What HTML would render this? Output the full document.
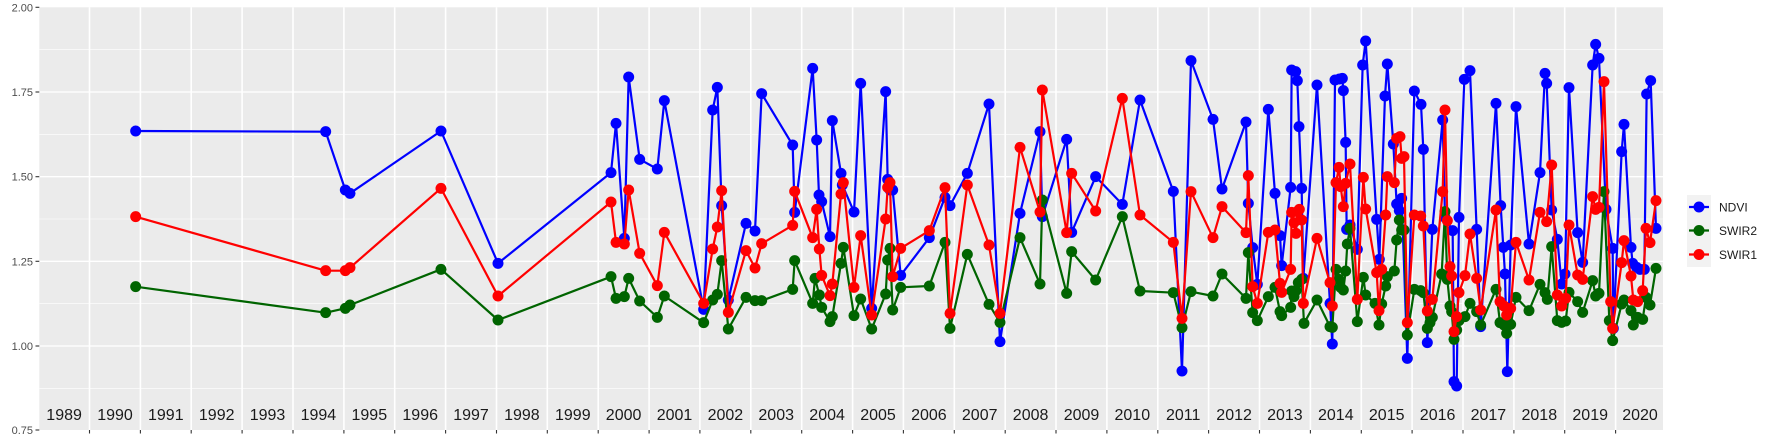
<!DOCTYPE html>
<html><head><meta charset="utf-8"><style>
html,body{margin:0;padding:0;background:#fff;}
svg{display:block;font-family:"Liberation Sans",sans-serif;}
</style></head><body>
<svg width="1773" height="442" viewBox="0 0 1773 442" xmlns="http://www.w3.org/2000/svg">
<defs>
<marker id="mb" markerUnits="userSpaceOnUse" markerWidth="34" markerHeight="34" refX="17" refY="17" viewBox="0 0 34 34"><circle cx="17" cy="17" r="16.5" fill="#0000ff"/></marker>
<marker id="mg" markerUnits="userSpaceOnUse" markerWidth="34" markerHeight="34" refX="17" refY="17" viewBox="0 0 34 34"><circle cx="17" cy="17" r="16.5" fill="#006400"/></marker>
<marker id="mr" markerUnits="userSpaceOnUse" markerWidth="34" markerHeight="34" refX="17" refY="17" viewBox="0 0 34 34"><circle cx="17" cy="17" r="16.5" fill="#ff0000"/></marker>
</defs>
<rect x="39.3" y="7.3" width="1623.7" height="422.7" fill="#ebebeb"/>
<g stroke="#fff" stroke-width="0.6">
<line x1="39.3" x2="1663" y1="49.7" y2="49.7"/><line x1="39.3" x2="1663" y1="134.3" y2="134.3"/><line x1="39.3" x2="1663" y1="219" y2="219"/><line x1="39.3" x2="1663" y1="303.6" y2="303.6"/><line x1="39.3" x2="1663" y1="388.3" y2="388.3"/>
</g>
<g stroke="#fff" stroke-width="1.3">
<line x1="39.3" x2="1663" y1="92" y2="92"/><line x1="39.3" x2="1663" y1="176.7" y2="176.7"/><line x1="39.3" x2="1663" y1="261.3" y2="261.3"/><line x1="39.3" x2="1663" y1="346" y2="346"/>
</g>
<g stroke="#fff" stroke-width="1.6">
<line x1="89.5" x2="89.5" y1="7.3" y2="430"/><line x1="140.4" x2="140.4" y1="7.3" y2="430"/><line x1="191.2" x2="191.2" y1="7.3" y2="430"/><line x1="242.1" x2="242.1" y1="7.3" y2="430"/><line x1="293" x2="293" y1="7.3" y2="430"/><line x1="343.9" x2="343.9" y1="7.3" y2="430"/><line x1="394.7" x2="394.7" y1="7.3" y2="430"/><line x1="445.6" x2="445.6" y1="7.3" y2="430"/><line x1="496.5" x2="496.5" y1="7.3" y2="430"/><line x1="547.3" x2="547.3" y1="7.3" y2="430"/><line x1="598.2" x2="598.2" y1="7.3" y2="430"/><line x1="649.1" x2="649.1" y1="7.3" y2="430"/><line x1="699.9" x2="699.9" y1="7.3" y2="430"/><line x1="750.8" x2="750.8" y1="7.3" y2="430"/><line x1="801.7" x2="801.7" y1="7.3" y2="430"/><line x1="852.6" x2="852.6" y1="7.3" y2="430"/><line x1="903.4" x2="903.4" y1="7.3" y2="430"/><line x1="954.3" x2="954.3" y1="7.3" y2="430"/><line x1="1005.2" x2="1005.2" y1="7.3" y2="430"/><line x1="1056" x2="1056" y1="7.3" y2="430"/><line x1="1106.9" x2="1106.9" y1="7.3" y2="430"/><line x1="1157.8" x2="1157.8" y1="7.3" y2="430"/><line x1="1208.6" x2="1208.6" y1="7.3" y2="430"/><line x1="1259.5" x2="1259.5" y1="7.3" y2="430"/><line x1="1310.4" x2="1310.4" y1="7.3" y2="430"/><line x1="1361.3" x2="1361.3" y1="7.3" y2="430"/><line x1="1412.1" x2="1412.1" y1="7.3" y2="430"/><line x1="1463" x2="1463" y1="7.3" y2="430"/><line x1="1513.9" x2="1513.9" y1="7.3" y2="430"/><line x1="1564.7" x2="1564.7" y1="7.3" y2="430"/><line x1="1615.6" x2="1615.6" y1="7.3" y2="430"/>
</g>
<g stroke="#333" stroke-width="1.1">
<line x1="89.5" x2="89.5" y1="430" y2="433.5"/><line x1="140.4" x2="140.4" y1="430" y2="433.5"/><line x1="191.2" x2="191.2" y1="430" y2="433.5"/><line x1="242.1" x2="242.1" y1="430" y2="433.5"/><line x1="293" x2="293" y1="430" y2="433.5"/><line x1="343.9" x2="343.9" y1="430" y2="433.5"/><line x1="394.7" x2="394.7" y1="430" y2="433.5"/><line x1="445.6" x2="445.6" y1="430" y2="433.5"/><line x1="496.5" x2="496.5" y1="430" y2="433.5"/><line x1="547.3" x2="547.3" y1="430" y2="433.5"/><line x1="598.2" x2="598.2" y1="430" y2="433.5"/><line x1="649.1" x2="649.1" y1="430" y2="433.5"/><line x1="699.9" x2="699.9" y1="430" y2="433.5"/><line x1="750.8" x2="750.8" y1="430" y2="433.5"/><line x1="801.7" x2="801.7" y1="430" y2="433.5"/><line x1="852.6" x2="852.6" y1="430" y2="433.5"/><line x1="903.4" x2="903.4" y1="430" y2="433.5"/><line x1="954.3" x2="954.3" y1="430" y2="433.5"/><line x1="1005.2" x2="1005.2" y1="430" y2="433.5"/><line x1="1056" x2="1056" y1="430" y2="433.5"/><line x1="1106.9" x2="1106.9" y1="430" y2="433.5"/><line x1="1157.8" x2="1157.8" y1="430" y2="433.5"/><line x1="1208.6" x2="1208.6" y1="430" y2="433.5"/><line x1="1259.5" x2="1259.5" y1="430" y2="433.5"/><line x1="1310.4" x2="1310.4" y1="430" y2="433.5"/><line x1="1361.3" x2="1361.3" y1="430" y2="433.5"/><line x1="1412.1" x2="1412.1" y1="430" y2="433.5"/><line x1="1463" x2="1463" y1="430" y2="433.5"/><line x1="1513.9" x2="1513.9" y1="430" y2="433.5"/><line x1="1564.7" x2="1564.7" y1="430" y2="433.5"/><line x1="1615.6" x2="1615.6" y1="430" y2="433.5"/>
<line x1="35.5" x2="39.3" y1="7.3" y2="7.3"/><line x1="35.5" x2="39.3" y1="92" y2="92"/><line x1="35.5" x2="39.3" y1="176.7" y2="176.7"/><line x1="35.5" x2="39.3" y1="261.3" y2="261.3"/><line x1="35.5" x2="39.3" y1="346" y2="346"/><line x1="35.5" x2="39.3" y1="430" y2="430"/>
</g>
<g font-size="11" fill="#4d4d4d" text-anchor="end">
<text x="33" y="11.3">2.00</text><text x="33" y="96">1.75</text><text x="33" y="180.7">1.50</text><text x="33" y="265.3">1.25</text><text x="33" y="350">1.00</text><text x="33" y="434">0.75</text>
</g>
<g font-size="16" fill="#1a1a1a" text-anchor="middle">
<text x="64.1" y="420">1989</text><text x="115" y="420">1990</text><text x="165.8" y="420">1991</text><text x="216.7" y="420">1992</text><text x="267.5" y="420">1993</text><text x="318.4" y="420">1994</text><text x="369.3" y="420">1995</text><text x="420.2" y="420">1996</text><text x="471" y="420">1997</text><text x="521.9" y="420">1998</text><text x="572.8" y="420">1999</text><text x="623.6" y="420">2000</text><text x="674.5" y="420">2001</text><text x="725.4" y="420">2002</text><text x="776.2" y="420">2003</text><text x="827.1" y="420">2004</text><text x="878" y="420">2005</text><text x="928.9" y="420">2006</text><text x="979.7" y="420">2007</text><text x="1030.6" y="420">2008</text><text x="1081.5" y="420">2009</text><text x="1132.3" y="420">2010</text><text x="1183.2" y="420">2011</text><text x="1234.1" y="420">2012</text><text x="1284.9" y="420">2013</text><text x="1335.8" y="420">2014</text><text x="1386.7" y="420">2015</text><text x="1437.6" y="420">2016</text><text x="1488.4" y="420">2017</text><text x="1539.3" y="420">2018</text><text x="1590.2" y="420">2019</text><text x="1640" y="420">2020</text>
</g>
<g transform="translate(540,0) scale(0.33333)" fill="none" stroke-width="6.6" stroke-linejoin="round">
<polyline stroke="#0000ff" marker-start="url(#mb)" marker-mid="url(#mb)" marker-end="url(#mb)" points="-1213,393 -643,395 -584,570 -570,580 -297,393 -126,790 213,518 228,370 253,715 266,231 299,478 352,507 373,302 491,928 518,330 532,262 545,617 565,900 618,670 645,693 665,281 758,435 764,637 818,205 830,420 837,585 845,605 870,710 877,362 903,520 907,555 942,636 962,250 995,925 1037,275 1043,538 1050,570 1058,570 1082,826 1168,713 1215,592 1230,617 1282,520 1347,312 1380,1025 1440,640 1500,395 1507,650 1580,418 1595,697 1667,530 1747,613 1800,300 1900,574 1926,1113 1953,182 2019,358 2046,567 2118,366 2125,610 2138,743 2152,853 2185,328 2205,580 2220,707 2225,797 2252,562 2255,210 2267,215 2272,242 2277,380 2285,565 2290,835 2331,255 2370,910 2377,1032 2385,240 2398,237 2407,235 2410,272 2417,427 2420,688 2430,675 2452,748 2468,195 2477,123 2510,658 2518,778 2535,288 2542,192 2560,432 2570,612 2578,632 2585,595 2602,1075 2623,273 2643,313 2650,448 2662,1028 2677,688 2708,360 2715,652 2738,692 2742,1145 2750,1158 2757,652 2773,238 2790,212 2810,688 2822,980 2868,310 2882,617 2890,742 2895,822 2902,1115 2912,735 2928,320 2967,732 3000,518 3015,220 3020,250 3035,630 3052,718 3065,852 3075,822 3087,263 3113,698 3128,787 3158,195 3167,133 3177,175 3198,628 3218,745 3220,985 3245,455 3252,373 3273,742 3278,790 3290,802 3300,808 3313,808 3320,282 3332,242 3348,685"/>
<polyline stroke="#006400" marker-start="url(#mg)" marker-mid="url(#mg)" marker-end="url(#mg)" points="-1213,860 -643,938 -584,925 -570,915 -297,808 -126,960 213,830 228,895 253,890 266,835 299,903 352,952 373,888 491,968 518,900 532,883 545,782 565,987 618,892 645,902 665,902 758,868 764,782 818,910 825,835 838,885 845,922 870,965 877,950 903,790 910,742 942,947 962,897 995,987 1037,882 1043,780 1050,745 1058,930 1082,862 1168,858 1215,727 1230,985 1282,763 1347,913 1380,967 1440,713 1500,852 1507,600 1580,880 1595,755 1667,840 1747,650 1800,873 1900,878 1926,983 1953,875 2019,888 2046,822 2118,895 2125,758 2138,938 2152,962 2185,890 2205,862 2220,935 2225,947 2252,922 2255,873 2262,890 2268,872 2275,848 2285,838 2292,970 2331,900 2370,980 2377,982 2388,808 2397,838 2402,862 2410,870 2417,813 2422,732 2430,685 2452,965 2470,832 2477,885 2505,910 2517,975 2525,912 2537,858 2542,830 2563,813 2570,720 2578,660 2585,690 2592,690 2602,1005 2623,868 2642,872 2650,878 2662,985 2670,968 2677,952 2705,822 2715,635 2722,838 2730,918 2735,935 2742,1018 2750,990 2757,962 2775,950 2790,910 2810,935 2822,975 2868,868 2880,968 2892,975 2900,1000 2912,973 2928,892 2967,932 3000,853 3015,878 3022,898 3035,740 3052,962 3065,967 3077,963 3087,877 3113,905 3128,937 3158,842 3167,888 3177,880 3192,575 3208,962 3218,1022 3245,912 3252,900 3273,932 3280,975 3293,952 3308,958 3318,892 3330,915 3348,805"/>
<polyline stroke="#ff0000" marker-start="url(#mr)" marker-mid="url(#mr)" marker-end="url(#mr)" points="-1213,650 -643,812 -584,812 -570,803 -297,565 -126,888 213,606 228,727 253,732 266,570 299,760 352,857 373,697 491,910 518,747 532,681 545,572 565,937 618,752 645,804 665,731 758,676 764,574 818,713 830,628 838,747 845,826 870,887 877,852 903,582 910,548 942,862 962,707 995,945 1037,657 1043,562 1050,548 1058,830 1082,745 1168,692 1215,563 1230,940 1282,555 1347,735 1380,940 1440,442 1500,636 1507,270 1580,698 1595,520 1667,633 1747,295 1800,645 1900,727 1926,955 1953,575 2019,713 2046,620 2118,698 2125,527 2138,860 2152,910 2185,697 2205,690 2220,850 2225,877 2252,808 2255,637 2262,668 2268,700 2272,635 2278,628 2285,660 2290,910 2331,715 2370,848 2377,918 2388,548 2397,502 2402,560 2410,620 2417,550 2430,492 2452,898 2470,532 2477,627 2510,818 2517,932 2525,808 2537,645 2542,530 2563,548 2570,415 2580,410 2585,475 2592,470 2602,968 2623,645 2642,648 2650,678 2662,933 2677,898 2708,575 2715,330 2722,662 2730,800 2735,828 2742,995 2750,950 2757,878 2775,827 2790,702 2810,835 2822,930 2868,630 2880,905 2892,918 2900,945 2912,925 2928,727 2967,840 3000,637 3020,665 3035,495 3052,885 3065,918 3077,895 3087,675 3113,825 3128,838 3158,590 3167,628 3177,622 3192,245 3212,905 3218,985 3245,788 3252,722 3273,828 3280,900 3293,905 3308,872 3318,685 3330,728 3348,602"/>
</g>
<rect x="1687" y="195" width="24" height="72" fill="#f2f2f2"/>
<g stroke-width="2.2">
<line x1="1689" x2="1709" y1="207" y2="207" stroke="#0000ff"/><circle cx="1699" cy="207" r="5.5" fill="#0000ff"/>
<line x1="1689" x2="1709" y1="230.5" y2="230.5" stroke="#006400"/><circle cx="1699" cy="230.5" r="5.5" fill="#006400"/>
<line x1="1689" x2="1709" y1="254.5" y2="254.5" stroke="#ff0000"/><circle cx="1699" cy="254.5" r="5.5" fill="#ff0000"/>
</g>
<g font-size="12" fill="#1a1a1a">
<text x="1719" y="211.5">NDVI</text><text x="1719" y="235">SWIR2</text><text x="1719" y="259">SWIR1</text>
</g>
</svg>
</body></html>
